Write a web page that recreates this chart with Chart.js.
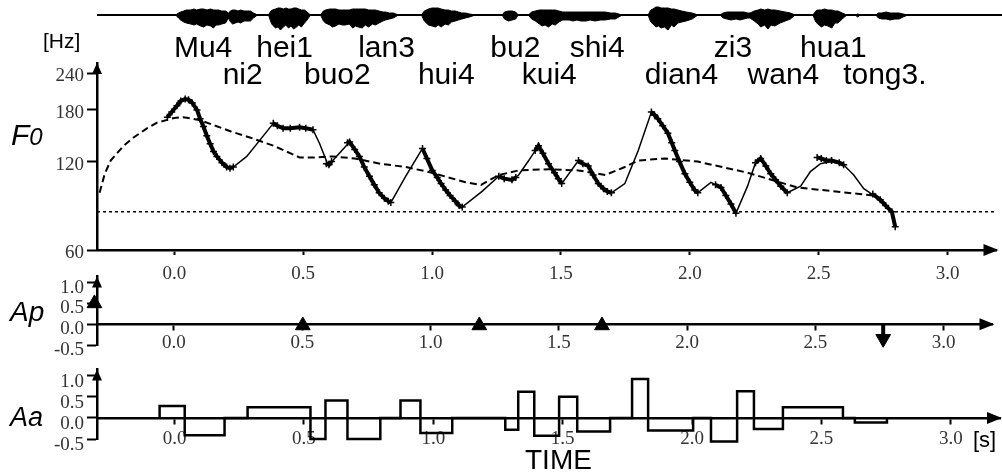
<!DOCTYPE html>
<html>
<head>
<meta charset="utf-8">
<script src="https://cdn.jsdelivr.net/npm/chart.js@4.4.0/dist/chart.umd.min.js"></script>
<style>
  body { margin: 0; background: #fff; }
  #wrap { position: relative; width: 1002px; height: 473px; overflow: hidden; }
  canvas { position: absolute; left: 0; }
  .lbl { position: absolute; line-height: 1; white-space: nowrap; color: #000; font-family: "Liberation Sans", Arial, sans-serif; }
  .it { font-style: italic; }
</style>
</head>
<body>
<div id="wrap">
  <canvas id="wave" width="1002" height="95" style="top:0"></canvas>
  <canvas id="f0" width="1002" height="240" style="top:40px"></canvas>
  <canvas id="ap" width="1002" height="100" style="top:262px"></canvas>
  <canvas id="aa" width="1002" height="118" style="top:355px"></canvas>
  <div class="lbl" style="left:43px;top:30px;font-size:21px">[Hz]</div>
  <div class="lbl it" style="left:11px;top:120px;font-size:30px">F<span style="font-size:24px">0</span></div>
  <div class="lbl it" style="left:10px;top:298px;font-size:28px">Ap</div>
  <div class="lbl it" style="left:10px;top:404px;font-size:27px">Aa</div>
  <div class="lbl" style="left:525px;top:446px;font-size:28px">TIME</div>
  <div class="lbl" style="left:973px;top:429px;font-size:22px">[s]</div>
</div>
<script>
// time axis (seconds)
const X_MIN = -0.3, X_MAX = 3.19;
const xTicks = [0, 0.5, 1, 1.5, 2, 2.5, 3];
const f0Ticks = [60, 120, 180, 240];
const ampTicks = [-0.5, 0, 0.5, 1];

// syllables
const syllTop = ['Mu4', 'hei1', 'lan3', 'bu2', 'shi4', 'zi3', 'hua1'];
const syllTopTime = [0.11, 0.425, 0.819, 1.317, 1.633, 2.158, 2.546];
const syllBottom = ['ni2', 'buo2', 'hui4', 'kui4', 'dian4', 'wan4', 'tong3.'];
const syllBottomTime = [0.263, 0.629, 1.05, 1.448, 1.959, 2.353, 2.745];

// speech waveform envelope (upper / lower)
const waveTime = [
  0.004, 0.015, 0.023, 0.035, 0.045, 0.062, 0.075, 0.085, 0.100, 0.112, 0.125, 0.139, 0.150, 0.160, 0.170, 0.182, 0.197, 0.208, 0.216, 0.224, 0.235, 0.245, 0.255, 0.268, 0.280, 0.293, 0.305, 0.320,
  0.363, 0.372, 0.378, 0.390, 0.400, 0.409, 0.420, 0.430, 0.440, 0.450, 0.460, 0.471, 0.480, 0.490, 0.502, 0.512, 0.525,
  0.564, 0.575, 0.583, 0.600, 0.610, 0.622, 0.635, 0.648, 0.660, 0.675, 0.688, 0.699, 0.710, 0.725, 0.737, 0.750, 0.765, 0.776, 0.790, 0.805, 0.815, 0.830, 0.845, 0.865,
  0.954, 0.965, 0.981, 0.995, 1.008, 1.019, 1.030, 1.045, 1.058, 1.070, 1.085, 1.097, 1.110, 1.124, 1.140, 1.162,
  1.266, 1.275, 1.290, 1.305, 1.318, 1.328,
  1.367, 1.380, 1.394, 1.410, 1.420, 1.432, 1.445, 1.460, 1.471, 1.485, 1.500, 1.510, 1.525, 1.540, 1.555, 1.570, 1.590, 1.606, 1.625, 1.645, 1.664, 1.685, 1.703, 1.730,
  1.830, 1.840, 1.849, 1.860, 1.870, 1.880, 1.893, 1.907, 1.920, 1.930, 1.945, 1.960, 1.977, 2.000, 2.023,
  2.108, 2.120, 2.135, 2.150, 2.170, 2.185, 2.200, 2.215, 2.224, 2.240, 2.255, 2.265, 2.280, 2.293, 2.305, 2.320, 2.340, 2.360, 2.380, 2.398,
  2.467, 2.478, 2.486, 2.500, 2.512, 2.525, 2.540, 2.552, 2.564, 2.580, 2.598,
  2.630, 2.640, 2.650,
  2.710, 2.720, 2.734, 2.750, 2.765, 2.784, 2.800, 2.815, 2.834];
const waveUp = [
  0, 2, 3, 4, 5, 5, 6, 5, 6, 6, 5, 6, 5, 5, 5, 4, 4, 2, 4, 5, 5, 4, 5, 4, 4, 4, 2, 0,
  0, 4, 5, 6, 7, 7, 6, 7, 6, 6, 7, 7, 6, 5, 5, 3, 0,
  0, 4, 5, 6, 6, 6, 5, 5, 5, 5, 6, 6, 6, 6, 6, 5, 5, 5, 4, 3, 3, 2, 2, 0,
  0, 4, 6, 7, 7, 7, 6, 5, 5, 4, 4, 3, 2, 2, 1, 0,
  0, 3, 4, 4, 3, 0,
  0, 3, 4, 5, 5, 5, 5, 5, 5, 4, 3, 3, 3, 3, 3, 3, 3, 3, 3, 3, 3, 2, 2, 0,
  0, 5, 6, 8, 8, 7, 7, 7, 6, 6, 5, 4, 3, 2, 0,
  0, 2, 3, 3, 3, 3, 3, 2, 2, 4, 5, 6, 5, 6, 5, 5, 4, 3, 2, 0,
  0, 4, 5, 5, 6, 5, 5, 4, 4, 2, 0,
  0, 1, 0,
  0, 2, 2, 3, 2, 2, 2, 1, 0];
const waveDown = [
  0, -3, -5, -7, -8, -9, -10, -9, -11, -12, -10, -11, -13, -10, -10, -9, -8, -3, -7, -9, -8, -7, -8, -6, -6, -6, -3, 0,
  0, -7, -10, -13, -12, -15, -12, -10, -13, -11, -14, -12, -10, -12, -8, -5, 0,
  0, -6, -8, -10, -12, -11, -9, -10, -10, -9, -13, -11, -12, -13, -10, -12, -9, -10, -8, -6, -5, -4, -3, 0,
  0, -6, -10, -11, -12, -10, -12, -9, -10, -7, -6, -5, -4, -3, -2, 0,
  0, -4, -6, -5, -4, 0,
  0, -4, -6, -9, -11, -10, -12, -9, -10, -7, -5, -5, -5, -6, -5, -6, -6, -5, -6, -5, -5, -4, -4, 0,
  0, -7, -9, -12, -11, -13, -12, -15, -10, -12, -8, -7, -6, -4, 0,
  0, -3, -4, -5, -4, -5, -4, -3, -3, -6, -9, -12, -10, -14, -10, -11, -8, -6, -4, 0,
  0, -7, -9, -12, -10, -11, -13, -8, -8, -4, 0,
  0, -2, 0,
  0, -3, -4, -4, -5, -4, -4, -2, 0];

// F0 contours [Hz]
const fbValue = 81;
const phraseTime = [-0.29, -0.27, -0.247, -0.196, -0.158, -0.105, -0.066, 0.0, 0.035, 0.1, 0.151, 0.22, 0.293, 0.384,
  0.486, 0.55, 0.614, 0.7, 0.8, 0.898, 1.0, 1.13, 1.19, 1.259, 1.336, 1.452, 1.568, 1.672, 1.748, 1.8, 1.903,
  2.031, 2.224, 2.417, 2.61, 2.714, 2.79];
const phraseF0 = [94, 109, 121, 136, 145, 156, 163, 169, 170, 166, 160, 152, 145, 136,
  124, 124, 125, 123, 118, 115, 110, 102, 100, 108, 112, 113, 112, 108, 115, 121, 123,
  120, 110, 98, 94, 92, 80];

const modelTime = [-0.027, 0.01, 0.042, 0.07, 0.088, 0.113, 0.139, 0.165, 0.203, 0.229, 0.281, 0.332, 0.384, 0.422,
  0.486, 0.538, 0.564, 0.596, 0.615, 0.68, 0.718, 0.757, 0.795, 0.84, 0.898, 0.963, 1.001, 1.053, 1.117, 1.194,
  1.259, 1.31, 1.336, 1.375, 1.413, 1.452, 1.503, 1.568, 1.606, 1.645, 1.696, 1.748, 1.8, 1.851, 1.876, 1.915,
  1.942, 1.981, 2.019, 2.031, 2.082, 2.121, 2.179, 2.224, 2.255, 2.275, 2.314, 2.353, 2.378, 2.43, 2.468, 2.507,
  2.546, 2.597, 2.636, 2.675, 2.739, 2.784];
const modelF0 = [170, 186, 196, 190, 180, 158, 138, 125, 115, 115, 125, 142, 162, 156,
  157, 154, 138, 117, 121, 140, 125, 107, 94, 87, 107, 133, 112, 96, 84, 95,
  107, 104, 108, 121, 136, 118, 101, 121, 116, 101, 94, 101, 131, 177, 168, 150,
  131, 109, 96, 94, 102, 98, 80, 99, 119, 123, 109, 99, 94, 99, 111, 118,
  120, 117, 108, 97, 89, 81];

// observed F0 (null = unvoiced gap)
const obsTime = [-0.027, -0.01, 0.01, 0.025, 0.042, 0.055, 0.07, 0.088, 0.1, 0.113, 0.126, 0.139, 0.152, 0.165, 0.185, 0.203, 0.216, 0.229, 0.3,
  0.384, 0.4, 0.422, 0.45, 0.486, 0.51, 0.538, 0.56,
  0.59, 0.6, 0.61, 0.64,
  0.672, 0.68, 0.7, 0.718, 0.737, 0.757, 0.776, 0.795, 0.815, 0.83, 0.84, 0.9,
  0.963, 0.98, 1.001, 1.02, 1.035, 1.053, 1.07, 1.09, 1.105, 1.117, 1.2,
  1.259, 1.28, 1.31, 1.325, 1.36,
  1.4, 1.413, 1.43, 1.452, 1.475, 1.49, 1.503, 1.53,
  1.568, 1.585, 1.606, 1.625, 1.645, 1.665, 1.68, 1.696, 1.77,
  1.851, 1.863, 1.876, 1.895, 1.915, 1.93, 1.942, 1.96, 1.981, 2.0, 2.019, 2.031, 2.06,
  2.1, 2.121, 2.14, 2.16, 2.179, 2.22,
  2.255, 2.275, 2.295, 2.314, 2.333, 2.353, 2.378, 2.44,
  2.494, 2.51, 2.53, 2.55, 2.58, 2.597, 2.66,
  2.71, 2.739, 2.76, 2.784, 2.797];
const obsF0 = [170, 177, 186, 193, 196, 195, 190, 180, 168, 158, 147, 138, 130, 125, 119, 115, 114, 115, null,
  162, 159, 156, 156, 157, 156, 154, null,
  118, 117, 120, null,
  139, 140, 132, 125, 115, 107, 100, 94, 90, 88, 87, null,
  133, 123, 112, 106, 101, 96, 92, 88, 85, 84, null,
  107, 105, 104, 106, null,
  131, 136, 128, 118, 110, 105, 101, null,
  121, 118, 116, 108, 101, 97, 95, 94, null,
  177, 173, 168, 159, 150, 139, 131, 120, 109, 102, 96, 94, null,
  100, 98, 92, 86, 80, null,
  119, 123, 116, 109, 104, 99, 94, null,
  124, 123, 121, 121, 119, 117, null,
  93, 89, 85, 81, 72];

// phrase commands (Ap) and accent commands (Aa)
const apTime = [-0.31, 0.502, 1.19, 1.668, 2.764];
const apAmp = [0.5, -0.03, -0.03, -0.03, -0.35];
const aaOn = [-0.058, 0.039, 0.282, 0.525, 0.583, 0.668, 0.873, 0.95, 1.278, 1.328, 1.39, 1.486, 1.556,
  1.768, 1.83, 2.073, 2.174, 2.239, 2.351, 2.629];
const aaOff = [0.039, 0.193, 0.525, 0.583, 0.668, 0.795, 0.95, 1.073, 1.328, 1.39, 1.486, 1.556, 1.683,
  1.83, 2.004, 2.174, 2.239, 2.351, 2.583, 2.753];
const aaAmp = [0.28, -0.41, 0.25, -0.5, 0.41, -0.5, 0.41, -0.36, -0.28, 0.62, -0.42, 0.5, -0.32,
  0.92, -0.3, -0.56, 0.63, -0.26, 0.25, -0.11];

Chart.defaults.font.family = '"Liberation Serif", "Times New Roman", serif';

const pts = (xs, ys) => xs.map((x, i) => ({ x: x, y: ys[i] }));

const syllablePlugin = {
  id: 'syllables',
  afterDraw(chart) {
    const ctx = chart.ctx, xs = chart.scales.x;
    ctx.save();
    ctx.font = '30px "Liberation Sans", Arial, sans-serif';
    ctx.fillStyle = '#000';
    ctx.textAlign = 'center';
    syllTop.forEach((s, i) => ctx.fillText(s, xs.getPixelForValue(syllTopTime[i]), 57));
    syllBottom.forEach((s, i) => ctx.fillText(s, xs.getPixelForValue(syllBottomTime[i]), 84));
    ctx.restore();
  }
};

// arrow heads on the axis ends
const arrowPlugin = {
  id: 'axisArrows',
  afterDraw(chart, args, opts) {
    const ctx = chart.ctx, a = chart.chartArea;
    const yAt = opts.xAt === undefined ? a.bottom : chart.scales.y.getPixelForValue(opts.xAt);
    ctx.save();
    ctx.fillStyle = '#000';
    ctx.beginPath();
    ctx.moveTo(a.left, a.top);
    ctx.lineTo(a.left - 5, a.top + 11);
    ctx.lineTo(a.left + 5, a.top + 11);
    ctx.fill();
    ctx.beginPath();
    ctx.moveTo(a.right + 2, yAt);
    ctx.lineTo(a.right - 13, yAt - 6);
    ctx.lineTo(a.right - 13, yAt + 6);
    ctx.fill();
    ctx.restore();
  }
};

function timeAxis(pad, extra) {
  return Object.assign({
    type: 'linear', min: X_MIN, max: X_MAX,
    afterBuildTicks: s => { s.ticks = xTicks.map(v => ({ value: v })); },
    grid: { drawOnChartArea: false, drawTicks: true, tickLength: 5, tickWidth: 2, tickColor: '#000' },
    border: { display: true, color: '#000', width: 2.5 },
    ticks: { color: '#333', font: { size: 19 }, padding: pad, maxRotation: 0, autoSkip: false,
      callback: v => v.toFixed(1) }
  }, extra);
}

function leftAxis(extra) {
  return Object.assign({
    afterFit: s => { s.width = 97; },
    grid: { drawOnChartArea: false, drawTicks: true, tickLength: 10, tickWidth: 2, tickColor: '#000' },
    border: { display: true, color: '#000', width: 2.5 }
  }, extra);
}

function leftTicks(offset, fmt) {
  return { color: '#333', font: { size: 19 }, padding: 3, labelOffset: offset, autoSkip: false, callback: fmt };
}

const common = {
  responsive: false,
  animation: false,
  plugins: { legend: { display: false }, tooltip: { enabled: false } }
};

// waveform + syllables
new Chart(document.getElementById('wave'), {
  type: 'line',
  data: {
    datasets: [
      { data: pts([X_MIN, 3.2], [0, 0]), borderColor: '#000', borderWidth: 2, pointRadius: 0, clip: false },
      { data: pts(waveTime, waveUp), borderColor: '#000', backgroundColor: '#000', borderWidth: 1, pointRadius: 0, fill: '+1' },
      { data: pts(waveTime, waveDown), borderColor: '#000', borderWidth: 1, pointRadius: 0, fill: false }
    ]
  },
  options: Object.assign({}, common, {
    layout: { padding: { top: 5, bottom: 64, left: 0, right: 2 } },
    scales: {
      x: { type: 'linear', min: X_MIN, max: X_MAX, display: false },
      y: { min: -16, max: 10, afterFit: s => { s.width = 97; },
        ticks: { display: false }, grid: { display: false }, border: { display: false } }
    }
  }),
  plugins: [syllablePlugin]
});

// F0 panel
new Chart(document.getElementById('f0'), {
  type: 'line',
  data: {
    datasets: [
      { data: pts([X_MIN, X_MAX], [fbValue, fbValue]), borderColor: '#000', borderWidth: 1.5, borderDash: [3, 3], pointRadius: 0, clip: false },
      { data: pts(phraseTime, phraseF0), borderColor: '#000', borderWidth: 2, borderDash: [7, 4], pointRadius: 0 },
      { data: pts(modelTime, modelF0), borderColor: '#000', borderWidth: 1.5, pointRadius: 0 },
      { data: pts(obsTime, obsF0), borderColor: '#000', borderWidth: 4, spanGaps: false,
        pointStyle: 'cross', pointRadius: 3.5, pointBorderWidth: 1.5, pointBorderColor: '#000' }
    ]
  },
  options: Object.assign({}, common, {
    layout: { padding: { top: 23, right: 2, left: 0, bottom: 0 } },
    plugins: Object.assign({}, common.plugins, { axisArrows: {} }),
    scales: {
      x: timeAxis(8, { afterFit: s => { s.height = 30; } }),
      y: leftAxis({
        type: 'logarithmic', min: 60, max: 260,
        afterBuildTicks: s => { s.ticks = f0Ticks.map(v => ({ value: v })); },
        ticks: leftTicks(3, v => String(v))
      })
    }
  }),
  plugins: [arrowPlugin]
});

// phrase command panel
const apStems = [];
apTime.forEach((t, i) => { apStems.push({ x: t, y: 0 }, { x: t, y: apAmp[i] }, { x: t, y: null }); });

new Chart(document.getElementById('ap'), {
  type: 'line',
  data: {
    datasets: [
      { data: apStems, borderColor: '#000', borderWidth: 4, pointRadius: 0, spanGaps: false, clip: false },
      { data: pts(apTime, apAmp), showLine: false, pointStyle: 'triangle', pointRadius: 8.5,
        pointRotation: apAmp.map(a => a < -0.1 ? 180 : 0), backgroundColor: '#000', borderColor: '#000', clip: false }
    ]
  },
  options: Object.assign({}, common, {
    layout: { padding: { top: 11, right: 2, left: 0, bottom: 17 } },
    plugins: Object.assign({}, common.plugins, { axisArrows: { xAt: 0 } }),
    scales: {
      x: timeAxis(2, { position: { y: 0 } }),
      y: leftAxis({
        min: -0.5, max: 1.15,
        afterBuildTicks: s => { s.ticks = ampTicks.map(v => ({ value: v })); },
        ticks: leftTicks(5, v => v.toFixed(1))
      })
    }
  }),
  plugins: [arrowPlugin]
});

// accent command panel
const aaSteps = [];
aaOn.forEach((t, i) => {
  aaSteps.push({ x: t, y: 0 }, { x: t, y: aaAmp[i] }, { x: aaOff[i], y: aaAmp[i] }, { x: aaOff[i], y: 0 });
});

new Chart(document.getElementById('aa'), {
  type: 'line',
  data: {
    datasets: [
      { data: aaSteps, borderColor: '#000', borderWidth: 2.5, pointRadius: 0, tension: 0, clip: false }
    ]
  },
  options: Object.assign({}, common, {
    layout: { padding: { top: 10, right: 2, left: 0, bottom: 34 } },
    plugins: Object.assign({}, common.plugins, { axisArrows: { xAt: 0 } }),
    scales: {
      x: timeAxis(5, { position: { y: 0 } }),
      y: leftAxis({
        min: -0.5, max: 1.15,
        afterBuildTicks: s => { s.ticks = ampTicks.map(v => ({ value: v })); },
        ticks: leftTicks(6, v => v.toFixed(1))
      })
    }
  }),
  plugins: [arrowPlugin]
});
</script>
</body>
</html>
